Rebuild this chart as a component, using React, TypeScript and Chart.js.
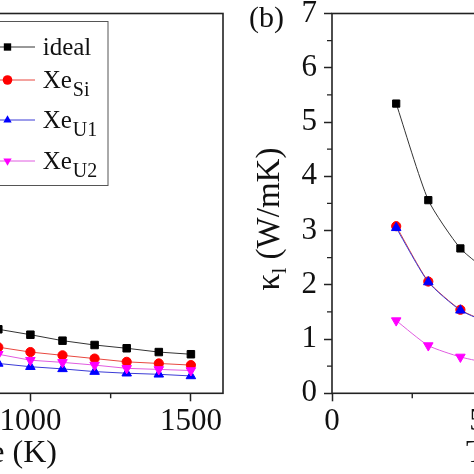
import { useEffect, useRef } from "react";
import { Chart, registerables, type Plugin } from "chart.js";

Chart.register(...registerables);

const SERIF = "'Liberation Serif', 'Times New Roman', serif";

// series: name + subscript, markers
const seriesBase = ["ideal", "Xe", "Xe", "Xe"];
const seriesSub = ["", "Si", "U1", "U2"];
const markerColors = ["#000000", "#ff0000", "#0000ff", "#ff00ff"];
const lineColors = ["#333333", "#e8473f", "#3b3bd6", "#e05ce0"];
const markerStyles = ["rect", "circle", "triangle", "triangle"];
const markerRotation = [0, 0, 0, 180];

// panel (a) - only the right end of the T axis is in view
const tempA = [900, 1000, 1100, 1200, 1300, 1400, 1500];
const idealA = [1.18, 1.08, 0.97, 0.89, 0.83, 0.76, 0.72];
const xeSiA = [0.85, 0.76, 0.7, 0.64, 0.58, 0.55, 0.52];
const xeU1A = [0.55, 0.49, 0.45, 0.4, 0.37, 0.35, 0.32];
const xeU2A = [0.72, 0.61, 0.57, 0.52, 0.46, 0.44, 0.42];
const xTicksA = [0, 500, 1000, 1500];
const xMinorA = [250, 750, 1250];

// panel (b) - kappa_l vs T, left part
const tempB = [200, 300, 400, 500];
const idealB = [5.34, 3.56, 2.67, 2.18];
const xeSiB = [3.08, 2.06, 1.54, 1.27];
const xeU1B = [3.05, 2.05, 1.53, 1.27];
const xeU2B = [1.34, 0.88, 0.67, 0.54];
const xTicksB = [0, 500, 1000, 1500];
const xMinorB = [250, 750, 1250];
const yTicksB = [0, 1, 2, 3, 4, 5, 6, 7];
const yMinorB = [0.5, 1.5, 2.5, 3.5, 4.5, 5.5, 6.5];

function buildDatasets(temps: number[], series: number[][], sizes: number[], tension: number) {
  return series.map((vals, i) => ({
    label: seriesBase[i] + seriesSub[i],
    data: temps.map((t, j) => ({ x: t, y: vals[j] })),
    borderColor: lineColors[i],
    borderWidth: 1,
    backgroundColor: markerColors[i],
    pointBackgroundColor: markerColors[i],
    pointBorderColor: markerColors[i],
    pointBorderWidth: 1,
    pointStyle: markerStyles[i],
    pointRotation: markerRotation[i],
    pointRadius: sizes[i],
    tension,
    order: 4 - i,
  }));
}

function drawMarker(ctx: CanvasRenderingContext2D, i: number, x: number, y: number, r: number) {
  ctx.fillStyle = markerColors[i];
  ctx.beginPath();
  if (markerStyles[i] === "rect") {
    const h = r * Math.SQRT1_2;
    ctx.rect(x - h, y - h, 2 * h, 2 * h);
  } else if (markerStyles[i] === "circle") {
    ctx.arc(x, y, r, 0, Math.PI * 2);
  } else {
    const s = markerRotation[i] === 180 ? -1 : 1;
    const w = (r * Math.sqrt(3)) / 2;
    ctx.moveTo(x, y - s * r);
    ctx.lineTo(x + w, y + (s * r) / 2);
    ctx.lineTo(x - w, y + (s * r) / 2);
    ctx.closePath();
  }
  ctx.fill();
}

// box round the plot + short outward minor ticks
const framePlugin: Plugin<"line"> = {
  id: "frameAndMinor",
  afterDatasetsDraw(chart, _args, opts: any) {
    const { ctx, chartArea: a, scales } = chart;
    ctx.save();
    ctx.strokeStyle = "#222";
    ctx.lineWidth = 1.6;
    ctx.strokeRect(a.left, a.top, a.right - a.left, a.bottom - a.top);
    ctx.lineWidth = 1.4;
    ctx.beginPath();
    for (const v of opts.xMinor ?? []) {
      const px = scales.x.getPixelForValue(v);
      ctx.moveTo(px, a.bottom);
      ctx.lineTo(px, a.bottom + 5);
    }
    for (const v of opts.yMinor ?? []) {
      const py = scales.y.getPixelForValue(v);
      ctx.moveTo(a.left, py);
      ctx.lineTo(a.left - 5, py);
    }
    ctx.stroke();
    ctx.restore();
  },
};

// legend with subscripts, top-left of panel (a)
const legendPlugin: Plugin<"line"> = {
  id: "subLegend",
  afterDraw(chart) {
    const { ctx, chartArea: a } = chart;
    const right = a.right - 115;
    const top = a.top + 8;
    const rows = [25.5, 58.5, 98.5, 139.5];
    ctx.save();
    ctx.fillStyle = "#fff";
    ctx.fillRect(right - 170, top, 170, 164);
    ctx.strokeStyle = "#555";
    ctx.lineWidth = 1;
    ctx.strokeRect(right - 170, top, 170, 164);
    rows.forEach((dy, i) => {
      const y = top + dy;
      ctx.strokeStyle = lineColors[i];
      ctx.lineWidth = 1;
      ctx.beginPath();
      ctx.moveTo(right - 135, y);
      ctx.lineTo(right - 73, y);
      ctx.stroke();
      drawMarker(ctx, i, right - 100.5, y, i === 0 ? 5.2 : 4.8);
      ctx.fillStyle = "#111";
      ctx.textBaseline = "alphabetic";
      ctx.textAlign = "left";
      ctx.font = `25px ${SERIF}`;
      const tx = right - 65.3;
      ctx.fillText(seriesBase[i], tx, y + 8);
      if (seriesSub[i]) {
        const w = ctx.measureText(seriesBase[i]).width;
        ctx.font = `20px ${SERIF}`;
        ctx.fillText(seriesSub[i], tx + w + 1, y + 16);
      }
    });
    ctx.restore();
  },
};

// "(b)" tag and the rotated kappa_l axis title
const panelBTextPlugin: Plugin<"line"> = {
  id: "panelBText",
  afterDraw(chart) {
    const ctx = chart.ctx;
    ctx.save();
    ctx.fillStyle = "#111";
    ctx.font = `30px ${SERIF}`;
    ctx.textAlign = "center";
    ctx.textBaseline = "alphabetic";
    ctx.fillText("(b)", 29.5, 47);

    ctx.translate(42, 239);
    ctx.rotate(-Math.PI / 2);
    ctx.textAlign = "left";
    const big = `33px ${SERIF}`;
    const small = `22px ${SERIF}`;
    ctx.font = big;
    const wK = ctx.measureText("\u03ba").width;
    const wRest = ctx.measureText(" (W/mK)").width;
    ctx.font = small;
    const wL = ctx.measureText("l").width;
    let x = -(wK + wL + wRest) / 2;
    ctx.font = big;
    ctx.fillText("\u03ba", x, 0);
    x += wK;
    ctx.font = small;
    ctx.fillText("l", x, 7);
    x += wL;
    ctx.font = big;
    ctx.fillText(" (W/mK)", x, 0);
    ctx.restore();
  },
};

const tickGrid = {
  drawOnChartArea: false,
  drawTicks: true,
  tickLength: 8,
  tickColor: "#222",
  tickWidth: 1.5,
};
const tickFont = { family: SERIF, size: 31 };
const titleFont = { family: SERIF, size: 32 };

const configA: any = {
  type: "line",
  data: { datasets: buildDatasets(tempA, [idealA, xeSiA, xeU1A, xeU2A], [5.3, 4.6, 5.5, 5.5], 0) },
  options: {
    responsive: false,
    animation: false,
    layout: { padding: { left: 97.3, right: 7, top: 13.5, bottom: 0 } },
    plugins: {
      legend: { display: false },
      tooltip: { enabled: false },
      frameAndMinor: { xMinor: xMinorA, yMinor: [] },
    },
    scales: {
      x: {
        type: "linear",
        min: -100,
        max: 1600,
        afterBuildTicks: (s: any) => {
          s.ticks = xTicksA.map((v) => ({ value: v }));
        },
        afterFit: (s: any) => {
          s.height = 80.7;
        },
        border: { display: false },
        grid: tickGrid,
        ticks: { color: "#111", font: tickFont, padding: 2, maxRotation: 0, autoSkip: false, callback: (v: any) => String(v) },
        title: { display: true, text: "Temperature (K)", color: "#111", font: titleFont, padding: { top: 0, bottom: 1 } },
      },
      y: { type: "linear", min: 0, max: 7, display: false },
    },
  },
  plugins: [framePlugin, legendPlugin],
};

const configB: any = {
  type: "line",
  data: { datasets: buildDatasets(tempB, [idealB, xeSiB, xeU1B, xeU2B], [5.1, 4.6, 5.5, 5.5], 0.2) },
  options: {
    responsive: false,
    animation: false,
    layout: { padding: { left: 0, right: 53.5, top: 33.5, bottom: 0 } },
    plugins: {
      legend: { display: false },
      tooltip: { enabled: false },
      frameAndMinor: { xMinor: xMinorB, yMinor: yMinorB },
    },
    scales: {
      x: {
        type: "linear",
        min: 0,
        max: 1500,
        afterBuildTicks: (s: any) => {
          s.ticks = xTicksB.map((v) => ({ value: v }));
        },
        afterFit: (s: any) => {
          s.height = 80.7;
        },
        border: { display: false },
        grid: tickGrid,
        ticks: { color: "#111", font: tickFont, padding: 2, maxRotation: 0, autoSkip: false, callback: (v: any) => String(v) },
        title: { display: true, text: "Temperature (K)", color: "#111", font: titleFont, padding: { top: 0, bottom: 1 } },
      },
      y: {
        type: "linear",
        min: 0,
        max: 7,
        afterBuildTicks: (s: any) => {
          s.ticks = yTicksB.map((v) => ({ value: v }));
        },
        afterFit: (s: any) => {
          s.width = 95;
        },
        border: { display: false },
        grid: tickGrid,
        ticks: { color: "#111", font: tickFont, padding: 7, callback: (v: any) => String(v) },
      },
    },
  },
  plugins: [framePlugin, panelBTextPlugin],
};

function Panel({ config, left, top, width, height }: { config: any; left: number; top: number; width: number; height: number }) {
  const canvasRef = useRef<HTMLCanvasElement>(null);

  useEffect(() => {
    if (!canvasRef.current) return;
    const chart = new Chart(canvasRef.current, config);
    return () => {
      chart.destroy();
    };
  }, [config]);

  return (
    <canvas
      ref={canvasRef}
      width={width}
      height={height}
      style={{ position: "absolute", left, top, width, height }}
    />
  );
}

export default function App() {
  return (
    <div
      style={{
        position: "fixed",
        left: 0,
        top: 0,
        width: 474,
        height: 474,
        overflow: "hidden",
        background: "#fff",
      }}
    >
      <Panel config={configA} left={-420} top={0} width={650} height={474} />
      <Panel config={configB} left={237} top={-20} width={630} height={494} />
    </div>
  );
}
